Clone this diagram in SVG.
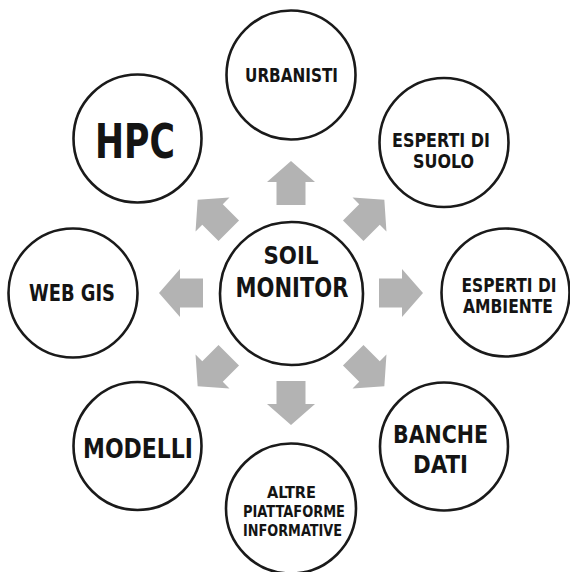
<svg xmlns="http://www.w3.org/2000/svg" width="570" height="572" viewBox="0 0 570 572">
<style>
.node circle{fill:#ffffff;stroke:#1a1a1a;stroke-width:2.6}
.node text{font-family:"DejaVu Sans Condensed","DejaVu Sans","Liberation Sans",sans-serif;font-weight:bold;fill:#141414;text-anchor:middle}
.arrow{fill:#b3b3b3}
</style>
<defs>
<path id="arr" d="M88,-14.5 H111 V-24 L132,0 L111,24 V14.5 H88 Z"/>
</defs>
<rect width="570" height="572" fill="#ffffff"/>
<g id="connectors">
<use href="#arr" class="arrow" transform="translate(291,293) rotate(-90)"/>
<use href="#arr" class="arrow" transform="translate(291,293) rotate(-45)"/>
<use href="#arr" class="arrow" transform="translate(291,293)"/>
<use href="#arr" class="arrow" transform="translate(291,293) rotate(45)"/>
<use href="#arr" class="arrow" transform="translate(291,293) rotate(90)"/>
<use href="#arr" class="arrow" transform="translate(291,293) rotate(135)"/>
<use href="#arr" class="arrow" transform="translate(291,293) rotate(180)"/>
<use href="#arr" class="arrow" transform="translate(291,293) rotate(-135)"/>
</g>
<g id="soil-monitor" class="node">
<circle cx="291.5" cy="293.5" r="71.5"/>
<text x="291" y="264" font-size="24" textLength="55" lengthAdjust="spacingAndGlyphs">SOIL</text>
<text x="292" y="297" font-size="27" textLength="113" lengthAdjust="spacingAndGlyphs">MONITOR</text>
</g>
<g id="urbanisti" class="node">
<circle cx="291" cy="75" r="64.5"/>
<text x="291.5" y="82" font-size="19.5" textLength="93" lengthAdjust="spacingAndGlyphs">URBANISTI</text>
</g>
<g id="esperti-suolo" class="node">
<circle cx="444" cy="142.5" r="64.5"/>
<text x="441" y="147" font-size="19" textLength="98" lengthAdjust="spacingAndGlyphs">ESPERTI DI</text>
<text x="443.5" y="168" font-size="19" textLength="61" lengthAdjust="spacingAndGlyphs">SUOLO</text>
</g>
<g id="esperti-ambiente" class="node">
<circle cx="505.5" cy="292.5" r="64"/>
<text x="509" y="292" font-size="19.5" textLength="95" lengthAdjust="spacingAndGlyphs">ESPERTI DI</text>
<text x="508" y="313" font-size="19.5" textLength="90" lengthAdjust="spacingAndGlyphs">AMBIENTE</text>
</g>
<g id="banche-dati" class="node">
<circle cx="444" cy="446.5" r="64"/>
<text x="440.5" y="443" font-size="24" textLength="95" lengthAdjust="spacingAndGlyphs">BANCHE</text>
<text x="440.5" y="473" font-size="25" textLength="55" lengthAdjust="spacingAndGlyphs">DATI</text>
</g>
<g id="altre-piattaforme" class="node">
<circle cx="291" cy="508.5" r="65"/>
<text x="291.5" y="498" font-size="15.5" textLength="49" lengthAdjust="spacingAndGlyphs">ALTRE</text>
<text x="294" y="517" font-size="15.5" textLength="102" lengthAdjust="spacingAndGlyphs">PIATTAFORME</text>
<text x="292.5" y="536" font-size="15.5" textLength="99" lengthAdjust="spacingAndGlyphs">INFORMATIVE</text>
</g>
<g id="modelli" class="node">
<circle cx="137.5" cy="446" r="64"/>
<text x="138" y="458" font-size="26" textLength="110" lengthAdjust="spacingAndGlyphs">MODELLI</text>
</g>
<g id="web-gis" class="node">
<circle cx="73" cy="293" r="64.5"/>
<text x="72" y="301" font-size="23.5" textLength="86" lengthAdjust="spacingAndGlyphs">WEB GIS</text>
</g>
<g id="hpc" class="node">
<circle cx="137.5" cy="138.5" r="64"/>
<text x="135" y="158" font-size="48.5" textLength="80" lengthAdjust="spacingAndGlyphs">HPC</text>
</g>
</svg>
